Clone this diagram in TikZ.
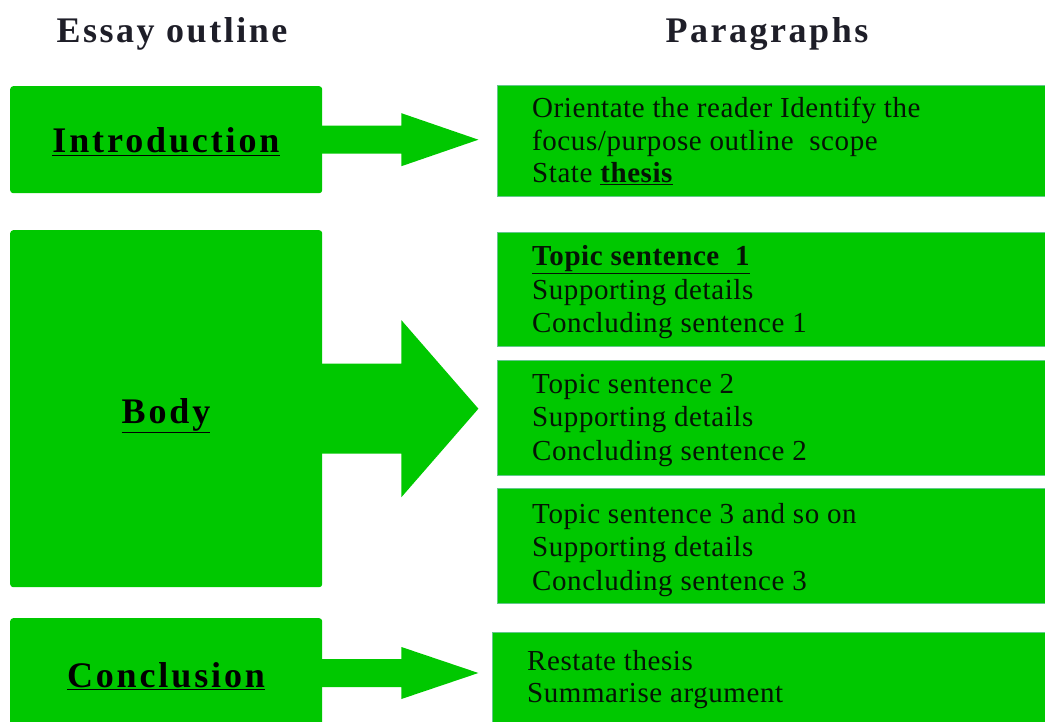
\documentclass[tikz,border=0pt]{standalone}
\usepackage{fontspec}
\setmainfont{Liberation Serif}
\newfontfamily\labelfont[LetterSpace=8]{Liberation Serif}
\newfontfamily\headfont[LetterSpace=7]{Liberation Serif}
\newfontfamily\bodyfont[LetterSpace=2]{Liberation Serif}
\usetikzlibrary{calc}
\definecolor{boxgreen}{RGB}{0,200,0}
\definecolor{edgegreen}{RGB}{100,200,140}
\definecolor{headgray}{RGB}{30,30,40}
\definecolor{textdark}{RGB}{5,20,5}
\newcommand\blockarrow[3]{%
  \fill[boxgreen] ($#1+(-1,-#2)$) -- ($#1+(79,-#2)$) -- ($#1+(79,-#3)$) -- ($#1+(156,0)$)
    -- ($#1+(79,#3)$) -- ($#1+(79,#2)$) -- ($#1+(-1,#2)$) -- cycle;}
\begin{document}
\begin{tikzpicture}[x=1pt,y=-1pt,
  leftbox/.style={fill=boxgreen, rounded corners=3pt, inner sep=0pt, anchor=north west},
  rightbox/.style={fill=boxgreen, draw=edgegreen, line width=1.2pt, inner sep=0pt, anchor=north west},
  heading/.style={anchor=base, inner sep=0pt, text=headgray, font=\headfont\bfseries\fontsize{36}{40}\selectfont},
  boxlabel/.style={anchor=base, inner sep=0pt, font=\labelfont\bfseries\fontsize{36}{40}\selectfont},
  para/.style={anchor=base west, inner sep=0pt, align=left, text=textdark, font=\bodyfont\fontsize{29}{33.5}\selectfont}]
\useasboundingbox (0,0) rectangle (1045,722);
\clip (0,0) rectangle (1045,722);
\fill[white] (0,0) rectangle (1045,722);
% headings
\node[heading] (h1) at (172,43) {Essay outline};
\node[heading] (h2) at (767,43) {Paragraphs};
% left boxes
\node[leftbox, minimum width=312, minimum height=107] (intro) at (10,86) {};
\node[leftbox, minimum width=312, minimum height=357] (body) at (10,230) {};
\node[leftbox, minimum width=312, minimum height=140] (concl) at (10,618) {};
\node[boxlabel] (introL) at (166,153) {\underline{Introduction}};
\node[boxlabel] (bodyL) at (166,423) {\underline{Body}};
\node[boxlabel] (conclL) at (166,687) {\underline{Conclusion}};
% right boxes
\node[rightbox, minimum width=560, minimum height=111] (introR) at (497,85) {};
\node[rightbox, minimum width=560, minimum height=114] (bodyA) at (497,232) {};
\node[rightbox, minimum width=560, minimum height=115] (bodyB) at (497,360) {};
\node[rightbox, minimum width=560, minimum height=115] (bodyC) at (497,488) {};
\node[rightbox, minimum width=570, minimum height=130] (conclR) at (492,632) {};
% texts (anchor = baseline of last line)
\node[para, font=\bodyfont\fontsize{29}{32.5}\selectfont] (introT) at (532,183) {Orientate the reader Identify the\\focus/purpose outline\ \ scope\\State \underline{\textbf{thesis}}};
\node[para] (bodyAT) at (532,333) {\underline{\textbf{Topic sentence\ \ 1}}\\Supporting details\\Concluding sentence 1};
\node[para] (bodyBT) at (532,460) {Topic sentence 2\\Supporting details\\Concluding sentence 2};
\node[para] (bodyCT) at (532,590) {Topic sentence 3 and so on\\Supporting details\\Concluding sentence 3};
\node[para, font=\bodyfont\fontsize{29}{32}\selectfont] (conclT) at (527,702) {Restate thesis\\Summarise argument};
% arrows
\coordinate (cA) at ($(concl.north east)+(0,55)$);
\blockarrow{(intro.east)}{14}{26.5}
\blockarrow{(body.east)}{45}{88.5}
\blockarrow{(cA)}{14}{26}
\end{tikzpicture}
\end{document}
